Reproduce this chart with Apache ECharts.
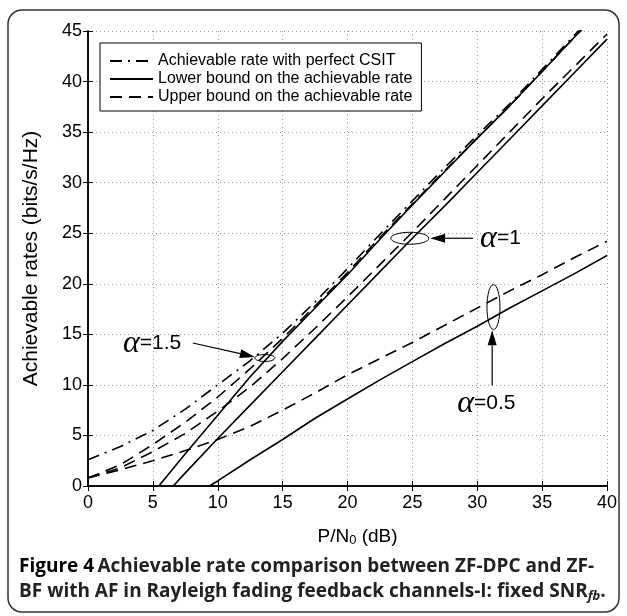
<!DOCTYPE html>
<html>
<head>
<meta charset="utf-8">
<script src="https://cdn.jsdelivr.net/npm/echarts@6/dist/echarts.min.js"></script>
<style>
    html, body { margin: 0; padding: 0; background: #fff; }
    #main { width: 627px; height: 616px; }
</style>
</head>
<body>
<div id="main"></div>
<script>
(function(global) {
    // values
    var snrDb = [0, 2.5, 5, 7.5, 10, 12.5, 15, 17.5, 20, 22.5, 25, 27.5, 30, 32.5, 35, 37.5, 40];
    var perfectCsit = [2.6, 3.9, 5.5, 7.6, 10.0, 12.4, 15.1, 18.2, 21.5, 24.9, 28.2, 31.5, 34.7, 37.8, 41.2, 44.6, 48.0];
    var upperA15 = [0.8, 2.1, 4.1, 6.3, 8.8, 11.6, 14.6, 17.8, 21.1, 24.6, 27.9, 31.2, 34.4, 37.6, 41.0, 44.4, 47.7];
    var upperA10 = [0.8, 1.8, 3.4, 5.2, 7.4, 9.8, 12.6, 15.6, 18.7, 21.9, 25.1, 28.4, 31.7, 35.0, 38.3, 41.5, 44.7];
    var upperA05 = [0.8, 1.6, 2.5, 3.5, 4.6, 5.9, 7.5, 9.2, 11.0, 12.6, 14.2, 15.9, 17.6, 19.3, 20.9, 22.6, 24.2];

    var lowerA15X = [5.46, 7.5, 10, 12.5, 15, 17.5, 20, 22.5, 25, 27.5, 30, 32.5, 35, 37.5, 40];
    var lowerA15 = [0, 3.2, 7.0, 10.8, 14.3, 17.6, 20.9, 24.4, 27.8, 31.1, 34.4, 37.6, 41.0, 44.4, 47.7];
    var lowerA10X = [6.57, 7.5, 10, 12.5, 15, 17.5, 20, 22.5, 25, 27.5, 30, 32.5, 35, 37.5, 40];
    var lowerA10 = [0, 1.3, 4.7, 8.0, 11.3, 14.6, 17.9, 21.2, 24.5, 27.7, 31.0, 34.3, 37.6, 40.9, 44.2];
    var lowerA05X = [9.35, 10, 12.5, 15, 17.5, 20, 22.5, 25, 27.5, 30, 32.5, 35, 37.5, 40];
    var lowerA05 = [0, 0.5, 2.6, 4.6, 6.7, 8.6, 10.5, 12.3, 14.1, 15.8, 17.6, 19.3, 21.0, 22.8];

    var legendNames = [
        'Achievable rate with perfect CSIT',
        'Lower bound on the achievable rate',
        'Upper bound on the achievable rate'
    ];

    // alpha annotations (data coords)
    var alphaNotes = [
        { label: '1.5', text: [2.69, 14.1], from: [8.08, 14.14], to: [12.86, 12.76], ring: [13.63, 12.66], rw: 10, rh: 3.5 },
        { label: '1', text: [30.22, 24.5], from: [29.68, 24.5], to: [26.37, 24.5], ring: [24.8, 24.5], rw: 19, rh: 6 },
        { label: '0.5', text: [28.45, 8.18], from: [31.15, 9.96], to: [31.15, 15.4], ring: [31.25, 17.7], rw: 6.5, rh: 22.5 }
    ];

    var font = 'Liberation Sans, Arial, sans-serif';
    var dashed = [12, 7];
    var dashDot = [12, 6, 2, 6];

    function zip(xs, ys) {
        return xs.map(function(x, i) { return [x, ys[i]]; });
    }
    function line(name, xs, ys, type) {
        return {
            name: name,
            type: 'line',
            data: zip(xs, ys),
            showSymbol: false,
            symbol: 'none',
            silent: true,
            clip: true,
            lineStyle: { color: '#000', width: 1.6, type: type },
            itemStyle: { color: '#000' }
        };
    }

    var myChart = echarts.init(document.getElementById('main'));

    var tickStyle = { show: true, inside: true, length: 5, lineStyle: { color: '#000', width: 1 } };
    var lineAxis = { show: true, lineStyle: { color: '#000', width: 1.5 } };
    var gridLine = { show: true, lineStyle: { color: '#999', width: 1, type: [1, 3] } };

    var option = {
        backgroundColor: '#fff',
        animation: false,
        grid: { left: 88, top: 31, width: 519, height: 455 },
        legend: {
            data: legendNames,
            orient: 'vertical',
            left: 100,
            top: 43,
            padding: [10, 9, 6, 9],
            itemGap: 2,
            itemWidth: 43,
            itemHeight: 15,
            backgroundColor: '#fff',
            borderColor: '#000',
            borderWidth: 1,
            itemStyle: { color: 'rgba(0,0,0,0)', borderColor: 'rgba(0,0,0,0)', borderWidth: 0 },
            textStyle: { fontFamily: font, fontSize: 16, color: '#000' }
        },
        xAxis: [
            {
                type: 'value', min: 0, max: 40, interval: 5, position: 'bottom',
                axisLine: lineAxis, axisTick: tickStyle, splitLine: gridLine,
                axisLabel: { fontFamily: font, fontSize: 18, color: '#000', margin: 8 },
                name: 'P/N{s|0} (dB)',
                nameLocation: 'middle',
                nameGap: 40,
                nameTextStyle: {
                    fontFamily: font, fontSize: 19, color: '#000',
                    padding: [0, 0, 0, 20],
                    rich: { s: { fontFamily: font, fontSize: 13, color: '#000', verticalAlign: 'bottom', padding: [8, 0, 0, 0] } }
                }
            },
            {
                type: 'value', min: 0, max: 40, interval: 5, position: 'top',
                axisLine: lineAxis, axisTick: tickStyle, axisLabel: { show: false }, splitLine: { show: false }
            }
        ],
        yAxis: [
            {
                type: 'value', min: 0, max: 45, interval: 5, position: 'left',
                axisLine: lineAxis, axisTick: tickStyle, splitLine: gridLine,
                axisLabel: { fontFamily: font, fontSize: 18, color: '#000', margin: 6 },
                name: 'Achievable rates (bits/s/Hz)',
                nameLocation: 'middle',
                nameGap: 46,
                nameTextStyle: { fontFamily: font, fontSize: 21, color: '#000' }
            },
            {
                type: 'value', min: 0, max: 45, interval: 5, position: 'right',
                axisLine: lineAxis, axisTick: tickStyle, axisLabel: { show: false }, splitLine: { show: false }
            }
        ],
        series: [
            line(legendNames[0], snrDb, perfectCsit, dashDot),
            line(legendNames[1], lowerA15X, lowerA15, 'solid'),
            line(legendNames[1], lowerA10X, lowerA10, 'solid'),
            line(legendNames[1], lowerA05X, lowerA05, 'solid'),
            line(legendNames[2], snrDb, upperA15, dashed),
            line(legendNames[2], snrDb, upperA10, dashed),
            line(legendNames[2], snrDb, upperA05, dashed)
        ]
    };

    myChart.setOption(option);

    // annotations + frame + caption
    var toPx = function(p) {
        return myChart.convertToPixel({ xAxisIndex: 0, yAxisIndex: 0 }, p);
    };
    var els = [];
    els.push({
        type: 'rect', z: -1, silent: true,
        shape: { x: 8, y: 10, width: 611, height: 602, r: 14 },
        style: { fill: 'none', stroke: '#333', lineWidth: 1.5 }
    });
    alphaNotes.forEach(function(n) {
        var t = toPx(n.text), a = toPx(n.from), b = toPx(n.to), c = toPx(n.ring);
        var dx = b[0] - a[0], dy = b[1] - a[1];
        var len = Math.sqrt(dx * dx + dy * dy);
        var ux = dx / len, uy = dy / len;
        var hl = 15, hw = 4.5;
        var bx = b[0] - ux * hl, by = b[1] - uy * hl;
        els.push({
            type: 'line', silent: true, z: 10,
            shape: { x1: a[0], y1: a[1], x2: bx, y2: by },
            style: { stroke: '#000', lineWidth: 1.2 }
        });
        els.push({
            type: 'polygon', silent: true, z: 10,
            shape: { points: [[b[0], b[1]], [bx - uy * hw, by + ux * hw], [bx + uy * hw, by - ux * hw]] },
            style: { fill: '#000' }
        });
        els.push({
            type: 'ellipse', silent: true, z: 10,
            shape: { cx: c[0], cy: c[1], rx: n.rw, ry: n.rh },
            style: { fill: 'none', stroke: '#000', lineWidth: 1 }
        });
        els.push({
            type: 'text', silent: true, z: 10,
            x: t[0], y: t[1],
            style: {
                text: '{a|α}{b|=' + n.label + '}',
                verticalAlign: 'middle',
                rich: {
                    a: { fontFamily: 'Liberation Serif, serif', fontStyle: 'italic', fontSize: 32, fill: '#000' },
                    b: { fontFamily: font, fontSize: 21, fill: '#000' }
                }
            }
        });
    });
    var capFont = 'Open Sans, Lato, sans-serif';
    els.push({
        type: 'text', silent: true, x: 19, y: 567,
        style: {
            text: '{f|Figure 4} {t|Achievable rate comparison between ZF-DPC and ZF-}',
            verticalAlign: 'middle',
            rich: {
                f: { fontFamily: capFont, fontSize: 19, fontWeight: 'bold', fill: '#000' },
                t: { fontFamily: capFont, fontSize: 19, fontWeight: 'bold', fill: '#222' }
            }
        }
    });
    els.push({
        type: 'text', silent: true, x: 19, y: 592,
        style: {
            text: '{t|BF with AF in Rayleigh fading feedback channels-I: fixed SNR}{s|fb}{t|.}',
            verticalAlign: 'middle',
            rich: {
                t: { fontFamily: capFont, fontSize: 19, fontWeight: 'bold', fill: '#222' },
                s: { fontFamily: capFont, fontSize: 13, fontWeight: 'bold', fontStyle: 'italic', fill: '#222', padding: [9, 0, 0, 0] }
            }
        }
    });
    myChart.setOption({ graphic: { elements: els } });
})(this);
</script>
</body>
</html>
